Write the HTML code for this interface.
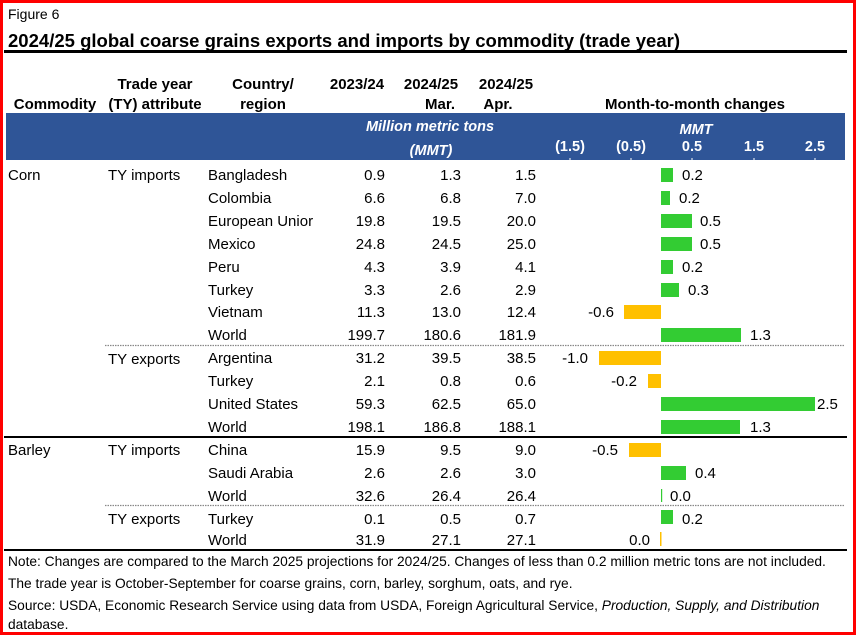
<!DOCTYPE html>
<html><head><meta charset="utf-8"><style>
body{margin:0;background:#fff}
svg text{font-family:"Liberation Sans",Arial,sans-serif}
</style></head><body>
<svg width="857" height="635" viewBox="0 0 857 635" xmlns="http://www.w3.org/2000/svg">
<rect x="0" y="0" width="857" height="635" fill="#fff"/>
<rect x="1.5" y="1.5" width="853" height="632" fill="none" stroke="#f00" stroke-width="3"/>
<text x="8" y="19" font-size="14">Figure 6</text>
<text x="8" y="47" font-size="18.5" font-weight="bold" textLength="672" lengthAdjust="spacingAndGlyphs">2024/25 global coarse grains exports and imports by commodity (trade year)</text>
<rect x="4" y="50" width="843" height="3" fill="#000"/>
<g font-size="15" font-weight="bold" text-anchor="middle">
<text x="55" y="109">Commodity</text>
<text x="155" y="89">Trade year</text>
<text x="155" y="109">(TY) attribute</text>
<text x="263" y="89">Country/</text>
<text x="263" y="109">region</text>
<text x="357" y="89">2023/24</text>
<text x="431" y="89">2024/25</text>
<text x="440" y="109">Mar.</text>
<text x="506" y="89">2024/25</text>
<text x="498" y="109">Apr.</text>
<text x="695" y="109">Month-to-month changes</text>
</g>
<rect x="6" y="113" width="839" height="47" fill="#2f5597"/>
<g fill="#fff" font-size="14.5" font-weight="bold" font-style="italic" text-anchor="middle">
<text x="430" y="131">Million metric tons</text>
<text x="431" y="155">(MMT)</text>
<text x="696" y="134">MMT</text>
</g>
<g fill="#fff" font-size="14.5" font-weight="bold" text-anchor="middle">
<text x="570" y="151">(1.5)</text><text x="631" y="151">(0.5)</text><text x="692" y="151">0.5</text><text x="754" y="151">1.5</text><text x="815" y="151">2.5</text>
</g>
<g stroke="#fff" stroke-width="1"><line x1="570" y1="158" x2="570" y2="160"/><line x1="631" y1="158" x2="631" y2="160"/><line x1="692" y1="158" x2="692" y2="160"/><line x1="754" y1="158" x2="754" y2="160"/><line x1="815" y1="158" x2="815" y2="160"/></g>
<g font-size="15">
<text x="8" y="180">Corn</text><text x="108" y="180">TY imports</text>
<text x="108" y="364">TY exports</text>
<text x="8" y="455">Barley</text><text x="108" y="455">TY imports</text>
<text x="108" y="524">TY exports</text>
</g>
<line x1="105" y1="345.5" x2="845" y2="345.5" stroke="#888" stroke-width="1.2" stroke-dasharray="1.5,1"/>
<line x1="105" y1="505.5" x2="845" y2="505.5" stroke="#888" stroke-width="1.2" stroke-dasharray="1.5,1"/>
<rect x="4" y="436" width="843" height="2" fill="#000"/>
<rect x="4" y="549" width="843" height="2" fill="#000"/>
<g font-size="13.75">
<text x="8" y="566">Note: Changes are compared to the March 2025 projections for 2024/25. Changes of less than 0.2 million metric tons are not included.</text>
<text x="8" y="588">The trade year is October-September for coarse grains, corn, barley, sorghum, oats, and rye.</text>
<text x="8" y="610">Source: USDA, Economic Research Service using data from USDA, Foreign Agricultural Service, <tspan font-style="italic">Production, Supply, and Distribution</tspan></text>
<text x="8" y="629">database.</text>
</g>
<g font-size="15">
<text x="208" y="180">Bangladesh</text><text x="385" y="180" text-anchor="end">0.9</text><text x="461" y="180" text-anchor="end">1.3</text><text x="536" y="180" text-anchor="end">1.5</text>
<text x="208" y="203">Colombia</text><text x="385" y="203" text-anchor="end">6.6</text><text x="461" y="203" text-anchor="end">6.8</text><text x="536" y="203" text-anchor="end">7.0</text>
<text x="208" y="226">European Unior</text><text x="385" y="226" text-anchor="end">19.8</text><text x="461" y="226" text-anchor="end">19.5</text><text x="536" y="226" text-anchor="end">20.0</text>
<text x="208" y="249">Mexico</text><text x="385" y="249" text-anchor="end">24.8</text><text x="461" y="249" text-anchor="end">24.5</text><text x="536" y="249" text-anchor="end">25.0</text>
<text x="208" y="272">Peru</text><text x="385" y="272" text-anchor="end">4.3</text><text x="461" y="272" text-anchor="end">3.9</text><text x="536" y="272" text-anchor="end">4.1</text>
<text x="208" y="295">Turkey</text><text x="385" y="295" text-anchor="end">3.3</text><text x="461" y="295" text-anchor="end">2.6</text><text x="536" y="295" text-anchor="end">2.9</text>
<text x="208" y="317">Vietnam</text><text x="385" y="317" text-anchor="end">11.3</text><text x="461" y="317" text-anchor="end">13.0</text><text x="536" y="317" text-anchor="end">12.4</text>
<text x="208" y="340">World</text><text x="385" y="340" text-anchor="end">199.7</text><text x="461" y="340" text-anchor="end">180.6</text><text x="536" y="340" text-anchor="end">181.9</text>
<text x="208" y="363">Argentina</text><text x="385" y="363" text-anchor="end">31.2</text><text x="461" y="363" text-anchor="end">39.5</text><text x="536" y="363" text-anchor="end">38.5</text>
<text x="208" y="386">Turkey</text><text x="385" y="386" text-anchor="end">2.1</text><text x="461" y="386" text-anchor="end">0.8</text><text x="536" y="386" text-anchor="end">0.6</text>
<text x="208" y="409">United States</text><text x="385" y="409" text-anchor="end">59.3</text><text x="461" y="409" text-anchor="end">62.5</text><text x="536" y="409" text-anchor="end">65.0</text>
<text x="208" y="432">World</text><text x="385" y="432" text-anchor="end">198.1</text><text x="461" y="432" text-anchor="end">186.8</text><text x="536" y="432" text-anchor="end">188.1</text>
<text x="208" y="455">China</text><text x="385" y="455" text-anchor="end">15.9</text><text x="461" y="455" text-anchor="end">9.5</text><text x="536" y="455" text-anchor="end">9.0</text>
<text x="208" y="478">Saudi Arabia</text><text x="385" y="478" text-anchor="end">2.6</text><text x="461" y="478" text-anchor="end">2.6</text><text x="536" y="478" text-anchor="end">3.0</text>
<text x="208" y="501">World</text><text x="385" y="501" text-anchor="end">32.6</text><text x="461" y="501" text-anchor="end">26.4</text><text x="536" y="501" text-anchor="end">26.4</text>
<text x="208" y="524">Turkey</text><text x="385" y="524" text-anchor="end">0.1</text><text x="461" y="524" text-anchor="end">0.5</text><text x="536" y="524" text-anchor="end">0.7</text>
<text x="208" y="545">World</text><text x="385" y="545" text-anchor="end">31.9</text><text x="461" y="545" text-anchor="end">27.1</text><text x="536" y="545" text-anchor="end">27.1</text>
</g>
<g fill="#33cc33">
<rect x="661" y="168" width="12" height="14"/>
<rect x="661" y="191" width="9" height="14"/>
<rect x="661" y="214" width="31" height="14"/>
<rect x="661" y="237" width="31" height="14"/>
<rect x="661" y="260" width="12" height="14"/>
<rect x="661" y="283" width="18" height="14"/>
<rect x="661" y="328" width="80" height="14"/>
<rect x="661" y="397" width="154" height="14"/>
<rect x="661" y="420" width="79" height="14"/>
<rect x="661" y="466" width="25" height="14"/>
<rect x="661" y="489" width="1.2" height="13"/>
<rect x="661" y="510" width="12" height="14"/>
</g>
<g fill="#ffc000">
<rect x="624" y="305" width="37" height="14"/>
<rect x="599" y="351" width="62" height="14"/>
<rect x="648" y="374" width="13" height="14"/>
<rect x="629" y="443" width="32" height="14"/>
<rect x="660" y="532" width="1.5" height="14"/>
</g>
<g font-size="15">
<text x="682" y="180">0.2</text><text x="679" y="203">0.2</text><text x="700" y="226">0.5</text><text x="700" y="249">0.5</text><text x="682" y="272">0.2</text><text x="688" y="295">0.3</text>
<text x="750" y="340">1.3</text><text x="817" y="409">2.5</text><text x="750" y="432">1.3</text><text x="695" y="478">0.4</text><text x="670" y="501">0.0</text><text x="682" y="524">0.2</text>
<g text-anchor="end"><text x="614" y="317">-0.6</text><text x="588" y="363">-1.0</text><text x="637" y="386">-0.2</text><text x="618" y="455">-0.5</text><text x="650" y="545">0.0</text></g>
</g>
</svg>
</body></html>
